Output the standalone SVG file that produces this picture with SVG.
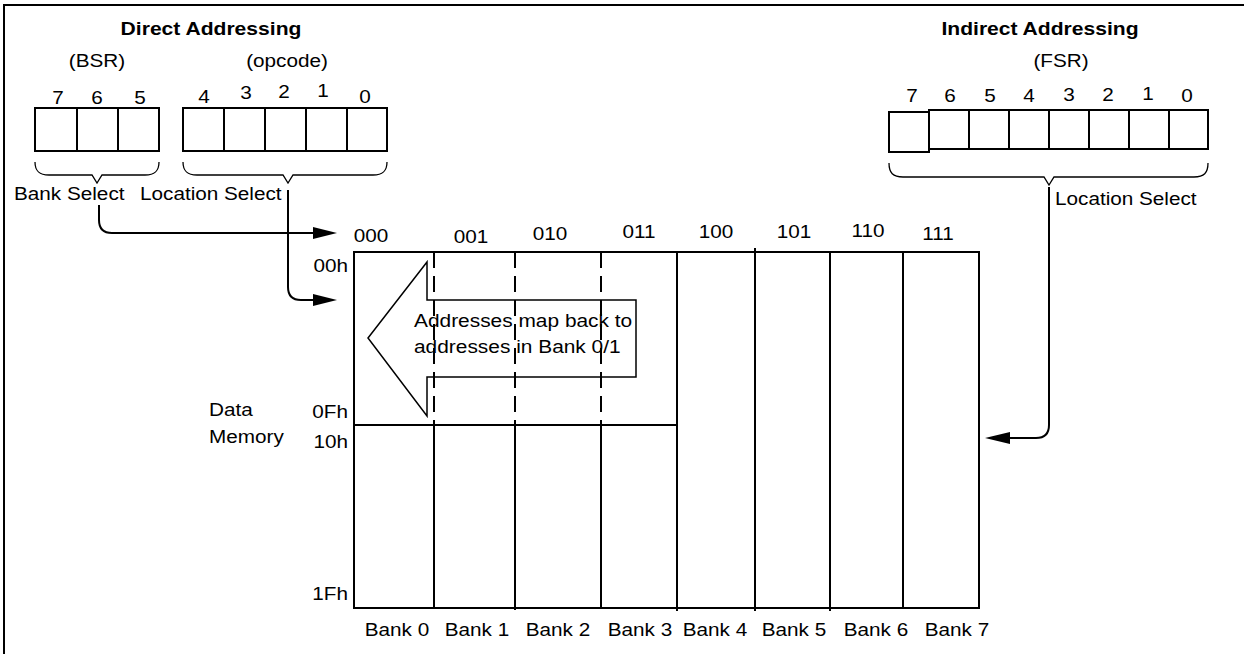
<svg xmlns="http://www.w3.org/2000/svg" width="1246" height="654" viewBox="0 0 1246 654">
<style>
text{font-family:"Liberation Sans",Arial,sans-serif;font-size:18.5px;fill:#000}
.b{font-weight:bold}
.m{text-anchor:middle}
.e{text-anchor:end}
.cell{fill:#fff;stroke:#000;stroke-width:2}
.ln{fill:none;stroke:#000;stroke-width:2}
.thin{fill:none;stroke:#000;stroke-width:1.3}
.dash{fill:none;stroke:#000;stroke-width:2;stroke-dasharray:16 8}
.ah{fill:#000;stroke:none}
</style>
<rect x="0" y="0" width="1246" height="654" fill="#fff"/>
<path class="ln" d="M4,654 L4,5 L1244,5"/>

<g id="direct-addressing">
<text class="b m" transform="translate(211 35) scale(1.14 1)">Direct Addressing</text>
<text class="m" transform="translate(97 67) scale(1.12 1)">(BSR)</text>
<text class="m" transform="translate(287 67) scale(1.12 1)">(opcode)</text>
</g>

<g id="bsr-register">
<text class="m" transform="translate(58 104) scale(1.12 1)">7</text>
<text class="m" transform="translate(97 104) scale(1.12 1)">6</text>
<text class="m" transform="translate(140 104) scale(1.12 1)">5</text>
<rect class="cell" x="35" y="108" width="42" height="43"/>
<rect class="cell" x="77" y="108" width="41" height="43"/>
<rect class="cell" x="118" y="108" width="41" height="43"/>
<path class="thin" d="M35,162 C35,171 39,175 49,175 L92,175 L97,183 L102,175 L145,175 C155,175 159,171 159,162"/>
<text transform="translate(14 200) scale(1.12 1)">Bank Select</text>
</g>

<g id="opcode-register">
<text class="m" transform="translate(204 103) scale(1.12 1)">4</text>
<text class="m" transform="translate(246 99) scale(1.12 1)">3</text>
<text class="m" transform="translate(284 98) scale(1.12 1)">2</text>
<text class="m" transform="translate(323 97) scale(1.12 1)">1</text>
<text class="m" transform="translate(365 103) scale(1.12 1)">0</text>
<rect class="cell" x="183" y="108" width="41" height="43"/>
<rect class="cell" x="224" y="108" width="41" height="43"/>
<rect class="cell" x="265" y="108" width="41" height="43"/>
<rect class="cell" x="306" y="108" width="41" height="43"/>
<rect class="cell" x="347" y="108" width="40" height="43"/>
<path class="thin" d="M183,162 C183,171 187,175 197,175 L283,175 L288,183 L293,175 L373,175 C383,175 387,171 387,162"/>
<text transform="translate(140 200) scale(1.12 1)">Location Select</text>
</g>

<g id="indirect-addressing">
<text class="b m" transform="translate(1040 35) scale(1.14 1)">Indirect Addressing</text>
<text class="m" transform="translate(1061 67) scale(1.12 1)">(FSR)</text>
</g>

<g id="fsr-register">
<text class="m" transform="translate(912 102) scale(1.12 1)">7</text>
<text class="m" transform="translate(950 102) scale(1.12 1)">6</text>
<text class="m" transform="translate(990 102) scale(1.12 1)">5</text>
<text class="m" transform="translate(1029 102) scale(1.12 1)">4</text>
<text class="m" transform="translate(1069 101) scale(1.12 1)">3</text>
<text class="m" transform="translate(1108 101) scale(1.12 1)">2</text>
<text class="m" transform="translate(1148 100) scale(1.12 1)">1</text>
<text class="m" transform="translate(1187 102) scale(1.12 1)">0</text>
<rect class="cell" x="889" y="112" width="40" height="40"/>
<rect class="cell" x="929" y="110" width="40" height="39"/>
<rect class="cell" x="969" y="110" width="40" height="39"/>
<rect class="cell" x="1009" y="110" width="40" height="39"/>
<rect class="cell" x="1049" y="110" width="40" height="39"/>
<rect class="cell" x="1089" y="110" width="40" height="39"/>
<rect class="cell" x="1129" y="110" width="40" height="39"/>
<rect class="cell" x="1169" y="110" width="39" height="39"/>
<path class="thin" d="M889,163 C889,173 893,177 903,177 L1044,177 L1049,185 L1054,177 L1194,177 C1204,177 1208,173 1208,163"/>
<text transform="translate(1055 205) scale(1.12 1)">Location Select</text>
</g>

<g id="data-memory">
<text transform="translate(209 416) scale(1.12 1)">Data</text>
<text transform="translate(209 443) scale(1.12 1)">Memory</text>
<text class="e" transform="translate(348 272) scale(1.12 1)">00h</text>
<text class="e" transform="translate(348 418) scale(1.12 1)">0Fh</text>
<text class="e" transform="translate(348 448) scale(1.12 1)">10h</text>
<text class="e" transform="translate(348 600) scale(1.12 1)">1Fh</text>

<text class="m" transform="translate(371 242) scale(1.12 1)">000</text>
<text class="m" transform="translate(471 243) scale(1.12 1)">001</text>
<text class="m" transform="translate(550 240) scale(1.12 1)">010</text>
<text class="m" transform="translate(639 238) scale(1.12 1)">011</text>
<text class="m" transform="translate(716 238) scale(1.12 1)">100</text>
<text class="m" transform="translate(794 238) scale(1.12 1)">101</text>
<text class="m" transform="translate(868 237) scale(1.12 1)">110</text>
<text class="m" transform="translate(938 240) scale(1.12 1)">111</text>

<rect class="ln" x="354" y="252" width="625" height="356"/>
<path class="ln" d="M354,425 L677,425"/>
<path class="dash" d="M434,252 L434,425 M515,252 L515,425 M601,252 L601,425"/>
<path class="ln" d="M434,425 L434,608 M515,425 L515,610 M601,425 L601,608"/>
<path class="ln" d="M677,252 L677,611 M755,248 L755,611 M830,252 L830,611 M903,252 L903,608"/>

<text class="m" transform="translate(397 636) scale(1.12 1)">Bank 0</text>
<text class="m" transform="translate(477 636) scale(1.12 1)">Bank 1</text>
<text class="m" transform="translate(558 636) scale(1.12 1)">Bank 2</text>
<text class="m" transform="translate(640 636) scale(1.12 1)">Bank 3</text>
<text class="m" transform="translate(715 636) scale(1.12 1)">Bank 4</text>
<text class="m" transform="translate(794 636) scale(1.12 1)">Bank 5</text>
<text class="m" transform="translate(876 636) scale(1.12 1)">Bank 6</text>
<text class="m" transform="translate(957 636) scale(1.12 1)">Bank 7</text>
</g>

<g id="map-back-arrow">
<polygon points="368,338 427,262 427,300 636,300 636,377 427,377 427,416" fill="none" stroke="#000" stroke-width="1.5" stroke-linejoin="miter"/>
<text transform="translate(414 327) scale(1.13 1)">Addresses map back to</text>
<text transform="translate(414 353) scale(1.13 1)">addresses in Bank 0/1</text>
</g>

<g id="connectors">
<path class="ln" d="M99,205 L99,220 Q99,233 112,233 L315,233"/>
<polygon class="ah" points="313,227 337,233 313,239"/>
<path class="ln" d="M288,190 L288,287 Q288,300 301,300 L315,300"/>
<polygon class="ah" points="313,294 337,300 313,306"/>
<path class="ln" d="M1049,187 L1049,425 Q1049,438 1036,438 L1008,438"/>
<polygon class="ah" points="1010,432 985,438 1010,444"/>
</g>
</svg>
